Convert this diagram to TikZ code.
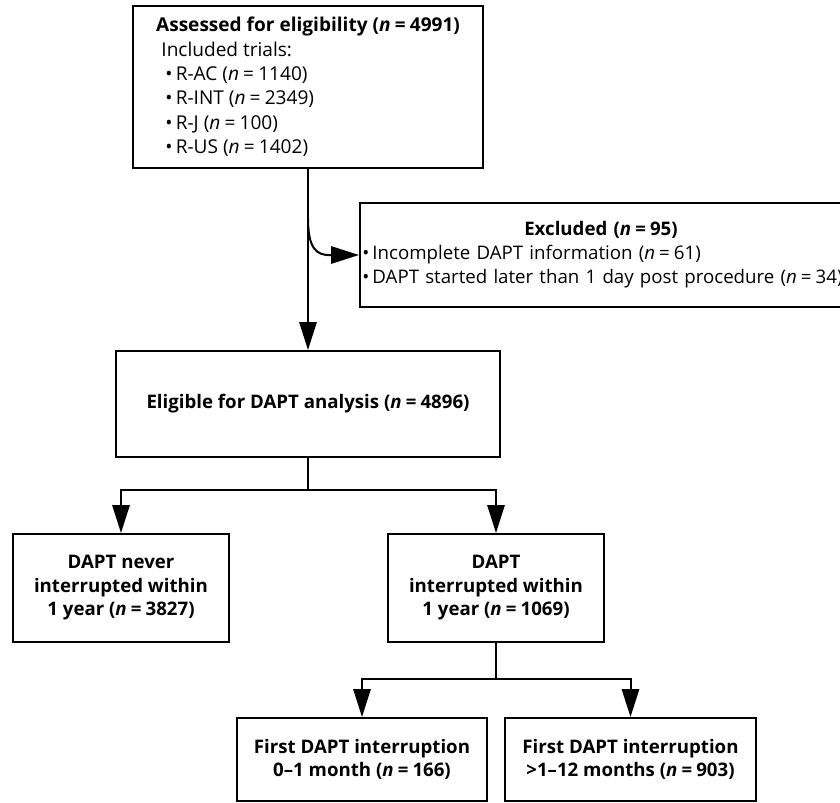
\documentclass[tikz,border=0pt]{standalone}
\usepackage{fontspec}
\setmainfont{Open Sans}
\usetikzlibrary{arrows.meta,calc}
\newcommand{\ncount}[1]{(\textit{n}\hspace{0.22em}=\hspace{0.22em}#1)}
\tikzset{
	box/.style={draw, line width=1.5pt, inner sep=0pt, align=center,
		font=\fontsize{14}{17.6}\selectfont\bfseries},
	arr/.style={-{Triangle[length=21pt,width=13pt]}, line width=1.5pt},
	ln/.style={line width=1.5pt},
}

\begin{document}
\begin{tikzpicture}[x=0.75pt,y=-0.75pt]
			%%%%% START %%%%%
			\useasboundingbox (0,0) rectangle (840,803);
			
			\node[box, minimum width=262.5pt, minimum height=121.5pt, align=left,
				font=\fontsize{14.3}{18.3}\selectfont] (assess) at (308,87)
				{\textbf{Assessed for eligibility \ncount{4991}}\\
				\hspace*{4pt}Included trials:\\
				\hspace*{7pt}\textbullet\,R-AC \ncount{1140}\\
				\hspace*{7pt}\textbullet\,R-INT \ncount{2349}\\
				\hspace*{7pt}\textbullet\,R-J \ncount{100}\\
				\hspace*{7pt}\textbullet\,R-US \ncount{1402}};
			
			\node[box, minimum width=361.5pt, minimum height=78pt, inner xsep=1.5pt, text width=358pt, align=left,
				font=\fontsize{14}{18}\selectfont] (excl) at (601,255)
				{\makebox[\linewidth][c]{\bfseries Excluded \ncount{95}}\\
				\mbox{\textbullet\,Incomplete DAPT information \ncount{61}}\\
				\mbox{\textbullet\,DAPT started later than 1 day post procedure \ncount{34}}};
			
			\node[box, minimum width=288pt, minimum height=79.5pt] (elig) at (308,404)
				{Eligible for DAPT analysis \ncount{4896}};
			
			\node[box, minimum width=162pt, minimum height=81pt] (never) at (121,588)
				{DAPT never\\ interrupted within\\ 1 year \ncount{3827}};
			\node[box, minimum width=162pt, minimum height=81pt] (interr) at (496,588)
				{DAPT\\ interrupted within\\ 1 year \ncount{1069}};
			
			\node[box, minimum width=187.5pt, minimum height=62.25pt] (first1) at (362,759.5)
				{First DAPT interruption\\ 0--1 month \ncount{166}};
			\node[box, minimum width=188.25pt, minimum height=62.25pt] (first2) at (630.5,759.5)
				{First DAPT interruption\\ >1--12 months \ncount{903}};
			
			% main line and exclusion
			\draw[arr] (assess.south) -- (elig.north);
			\coordinate (split) at ($(assess.south)!0.27!(elig.north)$);
			\draw[arr] (split) .. controls ($(split)+(0,30)$) and ($(split)+(8,38)$) .. ($(excl.west)+(-28,0)$) -- (excl.west);
			
			% first split
			\draw[ln] (elig.south) -- ++(0,32) coordinate (fork1);
			\draw[arr] (fork1) -| (never.north);
			\draw[arr] (fork1) -| (interr.north);
			
			% second split
			\draw[ln] (interr.south) -- ++(0,36) coordinate (fork2);
			\draw[arr] (fork2) -| (first1.north);
			\draw[arr] (fork2) -| (first2.north);
			
			%%%%% END %%%%%
\end{tikzpicture}
\end{document}
